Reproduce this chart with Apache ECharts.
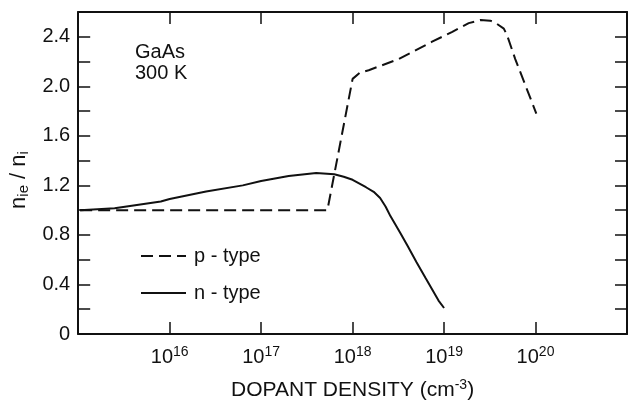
<!DOCTYPE html>
<html>
<head>
<meta charset="utf-8">
<script src="https://cdn.jsdelivr.net/npm/echarts@6/dist/echarts.min.js"></script>
<style>
  html, body { margin: 0; padding: 0; background: #fff; }
  #chart { width: 630px; height: 408px; }
</style>
</head>
<body>
<div id="chart"></div>
<script>
// values (dopant density in cm^-3, ratio n_ie / n_i)
const pDensity = [1.05e15, 5.3e17, 1.0e18, 1.2e18, 1.5e18, 3.2e18, 7.4e18, 1.23e19, 1.86e19, 2.5e19, 3.2e19, 3.6e19, 4.5e19, 4.9e19, 6.0e19, 1.02e20]
const pRatio = [1.0, 1.0, 2.06, 2.11, 2.13, 2.22, 2.36, 2.44, 2.51, 2.535, 2.53, 2.515, 2.466, 2.41, 2.22, 1.78]

const nDensity = [1.05e15, 2.5e15, 8e15, 1e16, 2.5e16, 6.3e16, 1e17, 2e17, 4e17, 6.3e17, 8e17, 1e18, 1.4e18, 1.7e18, 2e18, 2.3e18, 2.6e18, 3.3e18, 4e18, 5e18, 6.3e18, 8.7e18, 1e19]
const nRatio = [1.0, 1.015, 1.07, 1.09, 1.15, 1.2, 1.235, 1.275, 1.3, 1.29, 1.27, 1.245, 1.185, 1.148, 1.098, 1.028, 0.95, 0.82, 0.71, 0.58, 0.45, 0.27, 0.21]

const xLabelExponents = [16, 17, 18, 19, 20]
const yLabelValues = [0, 0.4, 0.8, 1.2, 1.6, 2.0, 2.4]

const INK = '#111'
const FONT = 'Liberation Sans, Arial, sans-serif'

const pairs = (xs, ys) => xs.map((x, i) => [x, ys[i]])

// every side of the frame gets its own axis with inward ticks
const frameAxis = (extra) => Object.assign({
  axisLine: { onZero: false, lineStyle: { color: INK, width: 2 } },
  axisTick: { show: true, inside: true, length: 12, lineStyle: { color: INK, width: 1.5 } },
  splitLine: { show: false }
}, extra)

const chart = echarts.init(document.getElementById('chart'))

chart.setOption({
  animation: false,
  grid: { left: 78, right: 1, top: 12, bottom: 74 },
  graphic: [{
    type: 'text',
    left: 135,
    top: 42,
    style: { text: 'GaAs\n300 K', font: '20px ' + FONT, lineHeight: 21, fill: INK }
  }],
  legend: {
    orient: 'vertical',
    left: 135,
    top: 241,
    itemWidth: 45,
    itemHeight: 14,
    itemGap: 17,
    itemStyle: { opacity: 0 },
    textStyle: { fontFamily: FONT, fontSize: 20, color: INK, padding: [0, 0, 0, 3] },
    data: ['p - type', 'n - type']
  },
  xAxis: [
    frameAxis({
      type: 'log',
      logBase: 10,
      min: 1e15,
      max: 1e21,
      name: '{t|DOPANT DENSITY (cm}{s|-3}{t|)}',
      nameLocation: 'middle',
      nameGap: 44,
      nameTextStyle: {
        rich: {
          t: { fontFamily: FONT, fontSize: 21, color: INK },
          s: { fontFamily: FONT, fontSize: 14, color: INK, padding: [0, 0, 10, 0] }
        }
      },
      axisLabel: {
        margin: 11,
        formatter: (v) => {
          const e = Math.round(Math.log10(v))
          return xLabelExponents.includes(e) ? '{b|10}{s|' + e + '}' : ''
        },
        rich: {
          b: { fontFamily: FONT, fontSize: 20, color: INK },
          s: { fontFamily: FONT, fontSize: 14, color: INK, padding: [0, 0, 10, 0] }
        }
      }
    }),
    frameAxis({
      type: 'log',
      logBase: 10,
      min: 1e15,
      max: 1e21,
      position: 'top',
      axisLabel: { show: false }
    })
  ],
  yAxis: [
    frameAxis({
      type: 'value',
      min: 0,
      max: 2.6,
      interval: 0.2,
      name: '{t|n}{s|ie}{t| / n}{s|i}',
      nameLocation: 'middle',
      nameGap: 46,
      nameTextStyle: {
        padding: [0, 14, 0, 0],
        rich: {
          t: { fontFamily: FONT, fontSize: 22, color: INK },
          s: { fontFamily: FONT, fontSize: 15, color: INK, padding: [10, 0, 0, 0] }
        }
      },
      axisLabel: {
        margin: 8,
        fontFamily: FONT,
        fontSize: 20,
        color: INK,
        formatter: (v) => {
          const hit = yLabelValues.find(t => Math.abs(t - v) < 1e-6)
          if (hit === undefined) return ''
          return hit === 0 ? '0' : hit.toFixed(1)
        }
      }
    }),
    frameAxis({
      type: 'value',
      min: 0,
      max: 2.6,
      interval: 0.2,
      position: 'right',
      axisLabel: { show: false }
    })
  ],
  series: [
    {
      name: 'p - type',
      type: 'line',
      symbol: 'none',
      data: pairs(pDensity, pRatio),
      lineStyle: { color: INK, width: 2, type: [12, 6] },
      itemStyle: { color: INK }
    },
    {
      name: 'n - type',
      type: 'line',
      symbol: 'none',
      data: pairs(nDensity, nRatio),
      lineStyle: { color: INK, width: 2 },
      itemStyle: { color: INK }
    }
  ]
})
</script>
</body>
</html>
